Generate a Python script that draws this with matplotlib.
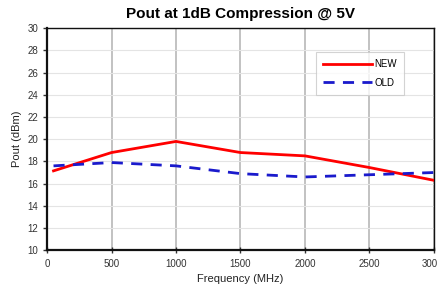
import matplotlib
matplotlib.use("Agg")
import matplotlib.pyplot as plt
import matplotlib.transforms as mtransforms

freq = [50, 500, 1000, 1500, 2000, 2500, 3000]
pout_new = [17.15, 18.8, 19.8, 18.8, 18.5, 17.45, 16.3]
pout_old = [17.6, 17.9, 17.6, 16.9, 16.6, 16.8, 17.0]
xticks = [0, 500, 1000, 1500, 2000, 2500, 3000]
xticklabels = ['0', '500', '1000', '1500', '2000', '2500', '300']
yticks = [10, 12, 14, 16, 18, 20, 22, 24, 26, 28, 30]

plt.rcParams['font.family'] = ['Liberation Sans', 'DejaVu Sans']

fig = plt.figure(figsize=(4.4, 2.85), dpi=100)
ax = fig.add_axes([0.107, 0.122, 0.879, 0.779])

ax.plot(freq, pout_new, color='#ff0000', lw=2, label='NEW', zorder=3)
ax.plot(freq, pout_old, color='#1a1acc', lw=2, ls=(0, (4, 3)), label='OLD', zorder=3)

ax.set_xlim(0, 3000)
ax.set_ylim(10, 30)
ax.set_xticks(xticks)
ax.set_yticks(yticks)
ax.set_xticklabels(xticklabels)

ax.grid(axis='x', color='#b8b8b8', lw=1.2)
ax.grid(axis='y', color='#e4e4e4', lw=0.8)
ax.set_axisbelow(True)

for s in ax.spines.values():
    s.set_color('#111111')
    s.set_linewidth(1.0)
ax.spines['left'].set_linewidth(1.6)
ax.spines['bottom'].set_linewidth(1.6)

ax.tick_params(axis='both', labelsize=7, colors='#333333', length=3, width=1)
ax.tick_params(axis='x', direction='inout', length=5)

# last label sits at the right edge, nudge it in so it is not clipped
last = ax.get_xticklabels()[-1]
last.set_transform(last.get_transform() + mtransforms.ScaledTranslation(-4 / 100, 0, fig.dpi_scale_trans))

ax.set_xlabel('Frequency (MHz)', fontsize=8, color='#222222', labelpad=4)
ax.set_ylabel('Pout (dBm)', fontsize=8, color='#222222', labelpad=4)
ax.set_title('Pout at 1dB Compression @ 5V', fontsize=11, fontweight='bold', pad=7)

leg = ax.legend(loc='upper left', bbox_to_anchor=(0.695, 0.893), fontsize=7,
                frameon=True, fancybox=False, edgecolor='#c8c8c8',
                handlelength=5.0, handletextpad=0.25, borderpad=0.75, labelspacing=0.85,
                borderaxespad=0)
leg.get_frame().set_linewidth(0.8)

fig.savefig('out.png', dpi=100)
